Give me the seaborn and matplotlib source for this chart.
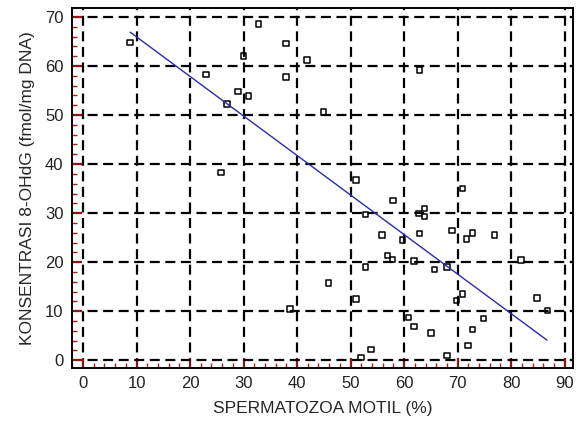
import matplotlib
matplotlib.use("Agg")
from matplotlib import pyplot as plt
from matplotlib.ticker import MultipleLocator
import pandas as pd
import seaborn as sns

motil = [8.8, 32.8, 37.9, 30.0, 41.9, 23.0, 37.9, 29.0, 30.9, 26.9,
         44.9, 25.8, 62.9, 51.0, 70.9, 57.9, 52.8, 62.8, 63.8, 63.8,
         55.9, 59.7, 62.9, 68.9, 72.8, 71.7, 76.9, 56.9, 57.8, 61.9,
         52.8, 65.7, 68.0, 81.8, 45.9, 51.0, 69.8, 70.9, 84.8, 86.8,
         60.8, 61.9, 74.8, 65.0, 72.8, 71.9, 53.8, 51.9, 68.0, 38.7]
ohdg = [64.8, 68.6, 64.6, 62.0, 61.2, 58.3, 57.7, 54.8, 53.9, 52.2,
        50.6, 38.3, 59.2, 36.7, 35.0, 32.6, 29.7, 29.9, 30.9, 29.3,
        25.5, 24.5, 25.8, 26.5, 26.0, 24.7, 25.5, 21.4, 20.5, 20.2,
        19.0, 18.5, 19.0, 20.4, 15.8, 12.5, 12.2, 13.5, 12.7, 10.1,
        8.7, 6.9, 8.5, 5.6, 6.3, 3.0, 2.2, 0.6, 1.0, 10.5]

# regression line as drawn in the original (end points)
fit_x = [8.8, 86.7]
fit_y = [66.9, 4.1]

df = pd.DataFrame({"motil": motil, "ohdg": ohdg})
df_fit = pd.DataFrame({"motil": fit_x, "ohdg": fit_y})

sns.set_style("white")
plt.rcParams["font.family"] = ["Liberation Sans", "DejaVu Sans"]

fig = plt.figure(figsize=(5.79, 4.28), dpi=100)
ax = fig.add_axes([0.124, 0.140, 0.866, 0.841])

ax.grid(True, which="major", color="black", linestyle=(0, (4.5, 2.5)), linewidth=1.6)
ax.set_axisbelow(True)

sns.scatterplot(data=df, x="motil", y="ohdg", ax=ax, marker="s", s=16,
                facecolor="none", edgecolor="black", linewidth=1.1)
sns.lineplot(data=df_fit, x="motil", y="ohdg", ax=ax, color="#2b2ba8", linewidth=1.0)

ax.set_xlim(-2.1, 91.6)
ax.set_ylim(-1.6, 71.8)
ax.xaxis.set_major_locator(MultipleLocator(10))
ax.yaxis.set_major_locator(MultipleLocator(10))
ax.xaxis.set_minor_locator(MultipleLocator(2))
ax.yaxis.set_minor_locator(MultipleLocator(2))
ax.tick_params(which="major", direction="in", length=7, width=1.2, color="#b01818",
               labelsize=12, labelcolor="#222222", pad=6)
ax.tick_params(which="minor", direction="in", length=3.5, width=1.0, color="#b01818")
ax.tick_params(left=True, bottom=True, which="both")

for s in ax.spines.values():
    s.set_color("black")
    s.set_linewidth(1.4)

ax.set_xlabel("SPERMATOZOA MOTIL (%)", fontsize=12.5, labelpad=7)
ax.set_ylabel("KONSENTRASI 8-OHdG (fmol/mg DNA)", fontsize=12.5, labelpad=7)

fig.savefig("out.png", dpi=100)
